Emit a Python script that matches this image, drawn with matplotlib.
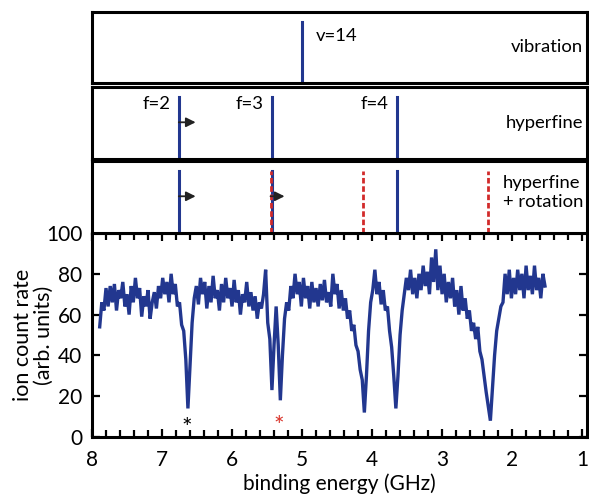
import numpy as np
import matplotlib
matplotlib.use("Agg")
import matplotlib.pyplot as plt
from matplotlib.ticker import MultipleLocator

plt.rcParams['font.family'] = ['Lato', 'DejaVu Sans']

# ---- data ----
# ion count trace, evenly sampled from 7.89 GHz down to 1.53 GHz (step 0.03 GHz)
trace_start, trace_end = 7.89, 1.53
counts = [
    54, 66, 62, 73, 64, 74, 66, 75, 62, 72,
    68, 76, 64, 70, 60, 74, 66, 78, 68, 73,
    59, 69, 64, 72, 58, 66, 71, 63, 74, 68,
    78, 70, 76, 66, 80, 70, 75, 64, 66, 55,
    52, 38, 14, 35, 56, 68, 74, 65, 78, 70,
    76, 63, 74, 66, 79, 68, 72, 62, 75, 66,
    78, 68, 73, 64, 77, 66, 72, 60, 70, 66,
    76, 64, 71, 62, 69, 58, 66, 63, 70, 82,
    56, 48, 23, 45, 64, 45, 18, 40, 58, 66,
    62, 74, 68, 80, 70, 76, 64, 78, 68, 74,
    63, 76, 66, 73, 64, 75, 67, 77, 66, 71,
    64, 80, 70, 75, 63, 72, 62, 68, 58, 62,
    52, 55, 45, 42, 33, 28, 12, 30, 52, 66,
    72, 82, 70, 76, 65, 72, 62, 64, 52, 44,
    30, 14, 30, 50, 62, 70, 78, 72, 82, 70,
    78, 68, 80, 72, 84, 74, 81, 70, 88, 76,
    92, 72, 84, 70, 80, 66, 76, 68, 78, 64,
    72, 60, 74, 62, 68, 58, 62, 52, 56, 48,
    54, 42, 38, 30, 22, 15, 8, 24, 40, 52,
    58, 64, 66, 80, 70, 82, 68, 78, 70, 82,
    72, 80, 68, 84, 72, 79, 70, 84, 72, 78,
    68, 80, 74,
]
energies = np.linspace(trace_start, trace_end, len(counts))

vib_lines = [5.0]
vib_labels = ["v=14"]
hf_lines = [6.76, 5.43, 3.65]
hf_labels = ["f=2", "f=3", "f=4"]
rot_lines = [5.45, 4.13, 2.35]
hf_arrows = [(6.76, 6.52)]
rot_arrows = [(6.76, 6.52), (5.45, 5.25)]
stars = [(6.64, 4, 'black'), (5.33, 5, '#d9342b')]

xticks = [8, 7, 6, 5, 4, 3, 2, 1]
yticks = [0, 20, 40, 60, 80, 100]

BLUE = '#22378f'
RED = '#d22a2a'
ARROW = '#222222'

W, H = 589, 496
fig = plt.figure(figsize=(W / 100, H / 100), dpi=100)


def rect(l, t, r, b):
    return [l / W, (H - b) / H, (r - l) / W, (b - t) / H]


XL = (8, 0.93)
ax = fig.add_axes(rect(92, 233, 587, 437))
ax1 = fig.add_axes(rect(92, 12, 587, 83))
ax2 = fig.add_axes(rect(92, 87, 587, 159))
ax3 = fig.add_axes(rect(92, 161, 587, 233))

# main trace
ax.plot(energies, counts, color=BLUE, lw=2.4, solid_joinstyle='miter')
ax.set_xlim(*XL)
ax.set_ylim(0, 100)
ax.set_xticks(xticks)
ax.set_yticks(yticks)
ax.xaxis.set_minor_locator(MultipleLocator(0.2))
ax.tick_params(axis='both', which='both', direction='in', top=True, right=True,
               width=1.6, labelsize=15)
ax.tick_params(axis='x', which='major', length=6, pad=9)
ax.tick_params(axis='y', which='major', length=6, pad=7)
ax.tick_params(axis='x', which='minor', length=5)
ax.tick_params(axis='y', which='minor', length=0)
for s in ax.spines.values():
    s.set_linewidth(2.2)
ax.set_xlabel("binding energy (GHz)", fontsize=15, labelpad=3)
ax.set_ylabel("ion count rate\n(arb. units)", fontsize=15.5, linespacing=1.05)
ax.yaxis.set_label_coords(-0.078, 0.5)
for x, y, c in stars:
    ax.text(x, y, "*", color=c, fontsize=18, ha='center', va='center')

for a in (ax1, ax2, ax3):
    a.set_xlim(*XL)
    a.set_ylim(0, 1)
    a.set_xticks([])
    a.set_yticks([])
    for s in a.spines.values():
        s.set_linewidth(2.2)

# vibration panel
for x, lab in zip(vib_lines, vib_labels):
    ax1.axvline(x, ymin=0, ymax=0.86, color=BLUE, lw=2.2)
    ax1.text(x - 0.2, 0.66, lab, fontsize=13.3, ha='left', va='center')
ax1.text(0.992, 0.5, "vibration", transform=ax1.transAxes, fontsize=13.3,
         ha='right', va='center')

# hyperfine panel
for x, lab in zip(hf_lines, hf_labels):
    ax2.axvline(x, ymin=0, ymax=0.86, color=BLUE, lw=2.2)
    ax2.text(x + 0.12, 0.76, lab, fontsize=13.3, ha='right', va='center')
for x0, x1 in hf_arrows:
    ax2.annotate("", xy=(x1, 0.51), xytext=(x0, 0.51),
                 arrowprops=dict(arrowstyle='-|>', color=ARROW, lw=1.3,
                                 mutation_scale=14, shrinkA=0, shrinkB=0))
ax2.text(0.992, 0.5, "hyperfine", transform=ax2.transAxes, fontsize=13.3,
         ha='right', va='center')

# hyperfine + rotation panel
for x in hf_lines:
    ax3.axvline(x, ymin=0, ymax=0.86, color=BLUE, lw=2.2)
for x in rot_lines:
    ax3.axvline(x, ymin=0, ymax=0.86, color=RED, lw=2.0, ls=(0, (2.0, 1.0)))
for x0, x1 in rot_arrows:
    ax3.annotate("", xy=(x1, 0.51), xytext=(x0, 0.51),
                 arrowprops=dict(arrowstyle='-|>', color=ARROW, lw=1.3,
                                 mutation_scale=14, shrinkA=0, shrinkB=0))
ax3.text(0.992, 0.56, "hyperfine\n+ rotation", transform=ax3.transAxes,
         fontsize=13.3, ha='right', va='center', multialignment='left',
         linespacing=1.25)

fig.savefig("out.png", dpi=100)
